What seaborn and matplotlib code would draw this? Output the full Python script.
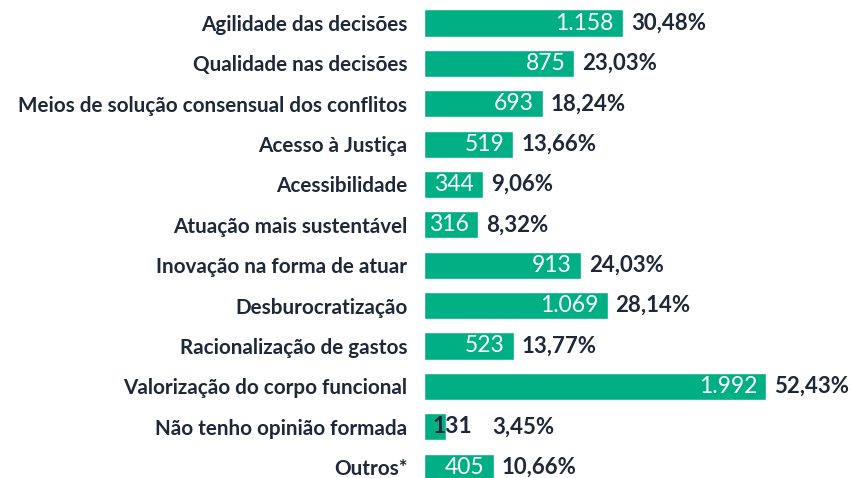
import pandas as pd
import seaborn as sns
import matplotlib.pyplot as plt

# Chart data
categories = [
    'Agilidade das decisões',
    'Qualidade nas decisões',
    'Meios de solução consensual dos conflitos',
    'Acesso à Justiça',
    'Acessibilidade',
    'Atuação mais sustentável',
    'Inovação na forma de atuar',
    'Desburocratização',
    'Racionalização de gastos',
    'Valorização do corpo funcional',
    'Não tenho opinião formada',
    'Outros*',
]
counts = [1158, 875, 693, 519, 344, 316, 913, 1069, 523, 1992, 131, 405]
percents = ['30,48%', '23,03%', '18,24%', '13,66%', '9,06%', '8,32%',
            '24,03%', '28,14%', '13,77%', '52,43%', '3,45%', '10,66%']

green = '#00B084'
dark = '#1E2838'

df = pd.DataFrame({'categoria': categories, 'total': counts})

sns.set_style('white')
plt.rcParams['font.family'] = ['Lato', 'DejaVu Sans']

fig = plt.figure(figsize=(8.5, 4.78), dpi=100)
ax = fig.add_axes([424 / 850, 0, 426 / 850, 1])

sns.barplot(data=df, x='total', y='categoria', color=green, saturation=1,
            width=0.67, ax=ax)

ax.set_xlim(0, 2481)
ax.set_ylim(11.27, -0.57)
sns.despine(ax=ax, left=True, bottom=True)
ax.set_xticks([])
ax.set_xlabel('')
ax.set_ylabel('')
ax.tick_params(axis='y', length=0, pad=12)
for lbl in ax.get_yticklabels():
    lbl.set_fontsize(14.9)
    lbl.set_fontweight('bold')
    lbl.set_color(dark)


def fmt_num(v):
    return f'{v:,}'.replace(',', '.')


for i, (v, p) in enumerate(zip(counts, percents)):
    if v > 233:
        ax.annotate(fmt_num(v), (v, i), xytext=(-9, 0), textcoords='offset pixels',
                    ha='right', va='center', color='white', fontsize=16.5)
        pct_off = 8
    else:
        ax.annotate(fmt_num(v), (0, i), xytext=(9, 0), textcoords='offset pixels',
                    ha='left', va='center', color=dark, fontsize=16.5,
                    fontweight='bold')
        pct_off = 46
    ax.annotate(p, (v, i), xytext=(pct_off, 0), textcoords='offset pixels',
                ha='left', va='center', color=dark, fontsize=16, fontweight='bold')

fig.savefig('out.png', dpi=100)
